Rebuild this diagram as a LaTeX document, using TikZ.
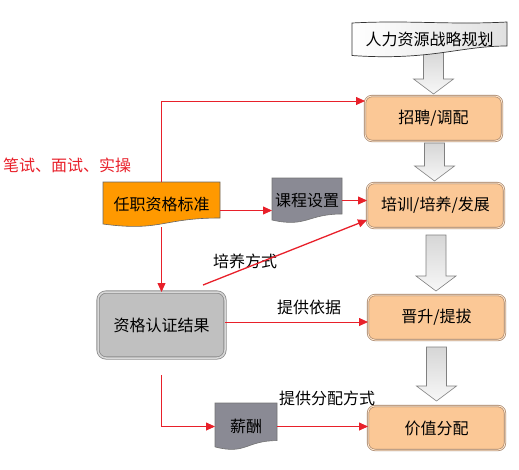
\documentclass[tikz,border=0pt]{standalone}
\usepackage{fontspec}
\newfontfamily\cjk{Noto Sans CJK SC}
\usetikzlibrary{arrows.meta,calc,backgrounds}
\definecolor{peach}{HTML}{FBC896}
\definecolor{peachborder}{HTML}{9C7C64}
\definecolor{peachin}{HTML}{FDE3C8}
\definecolor{redline}{HTML}{E8202A}
\definecolor{orangedoc}{HTML}{FF9900}
\definecolor{graydoc}{HTML}{8A8A94}
\definecolor{graybox}{HTML}{C0C0C0}
\definecolor{grayborder}{HTML}{8C8C8C}
\definecolor{grayin}{HTML}{D8D8D8}
\newcommand\docshape[2]{\path[#2] (#1.north west) -- (#1.north east) -- ($(#1.north east)!0.80!(#1.south east)$) .. controls ($(#1.north)!0.80!(#1.south)$) and ($(#1.north)!1.107!(#1.south)$) .. ($(#1.north west)!0.934!(#1.south west)$) -- cycle;}
\newcommand\blockarr[2]{\path[blockarrow] let \p1=(#1), \p2=(#2) in (\x1-10pt,\y1) -- (\x1+10pt,\y1) -- (\x1+10pt,\y2+15pt) -- (\x1+20pt,\y2+15pt) -- (\x1,\y2) -- (\x1-20pt,\y2+15pt) -- (\x1-10pt,\y2+15pt) -- cycle;}
\tikzset{
  txt/.style={font=\cjk\fontsize{16}{18}\selectfont, text=black, inner sep=0pt, outer sep=0pt},
  stage/.style={txt, draw=peachborder, double=peachin, double distance=1pt, line width=0.6pt, fill=peach, rounded corners=7pt, minimum width=137pt, minimum height=45pt},
  result/.style={txt, draw=grayborder, fill=graybox, double=grayin, double distance=1.5pt, line width=0.8pt, rounded corners=8pt, minimum width=127pt, minimum height=66pt},
  docnode/.style={txt},
  blockarrow/.style={draw=black!50, line width=0.6pt, top color=black!16, bottom color=black!3},
  redarr/.style={draw=redline, line width=0.8pt, -{Triangle[length=9pt,width=8pt]}},
  lbl/.style={txt}
}
\begin{document}
\begin{tikzpicture}[x=1pt,y=-1pt]
\useasboundingbox (0,0) rectangle (519,469);
% nodes
\node[txt, minimum width=155pt, minimum height=34pt] (hr) at (429.5,39) {人力资源战略规划};
\node[stage] (zp) at (433.5,118.5) {招聘/调配};
\node[stage] (px) at (435.5,205.5) {培训/培养/发展};
\node[stage] (jx) at (436.5,317.5) {晋升/提拔};
\node[stage, minimum height=44pt] (jz) at (436.5,428) {价值分配};
\node[docnode, minimum width=117pt, minimum height=45pt] (rz) at (161.5,204.5) {任职资格标准};
\node[docnode, minimum width=70pt, minimum height=45pt] (kc) at (307,200.5) {课程设置};
\node[result] (zg) at (161.5,325) {资格认证结果};
\node[docnode, minimum width=62pt, minimum height=47pt] (xc) at (246,426.5) {薪酬};
% labels
\node[lbl, text=redline] (bs) at (67,165) {笔试、面试、实操};
\node[lbl] (l1) at (245,261) {培养方式};
\node[lbl] (l2) at (309,307) {提供依据};
\node[lbl] (l3) at (327,398) {提供分配方式};
% coordinates for block arrows
\coordinate (a1s) at (433.5,50); \coordinate (a1e) at (433.5,94);
\coordinate (a2s) at (434.5,143); \coordinate (a2e) at (434.5,181);
\coordinate (a3s) at (436,235); \coordinate (a3e) at (436,291);
\coordinate (a4s) at (436.5,347); \coordinate (a4e) at (436.5,401);
\begin{pgfonlayer}{background}
\blockarr{a1s}{a1e}
\blockarr{a2s}{a2e}
\blockarr{a3s}{a3e}
\blockarr{a4s}{a4e}
\begin{scope}[shift={(hr.center)}]
\path[draw=black!80, line width=0.7pt, left color=white, right color=black!12]
 (-77.5,-16) .. controls (-20,-19) and (20,-14) .. (77.5,-17) -- (77.5,7)
 .. controls (30,7) and (0,22) .. (-77.5,16.5) -- cycle;
\end{scope}
\docshape{rz}{fill=orangedoc, draw=black!60, line width=0.6pt}
\docshape{kc}{fill=graydoc, draw=black!55, line width=0.6pt}
\docshape{xc}{fill=graydoc, draw=black!55, line width=0.6pt}
\end{pgfonlayer}
% red connectors
\draw[redarr] (rz.north) |- ([yshift=17.5pt]zp.west);
\draw[redarr] ([yshift=-6pt]rz.east) coordinate (t1) -- (t1 -| kc.west);
\draw[redarr] (kc.east) -- (kc.east -| px.west);
\coordinate (pys) at (203,285);
\draw[redarr, line width=1.3pt] (pys) -- ([yshift=8pt]px.south west);
\draw[redarr] (rz.south) -- (zg.north);
\draw[redarr] ([yshift=3pt]zg.east) coordinate (t2) -- (t2 -| jx.west);
\draw[redarr] ([yshift=-17pt]zg.south) |- (xc.west);
\draw[redarr] (xc.east) -- (xc.east -| jz.west);
\end{tikzpicture}
\end{document}
